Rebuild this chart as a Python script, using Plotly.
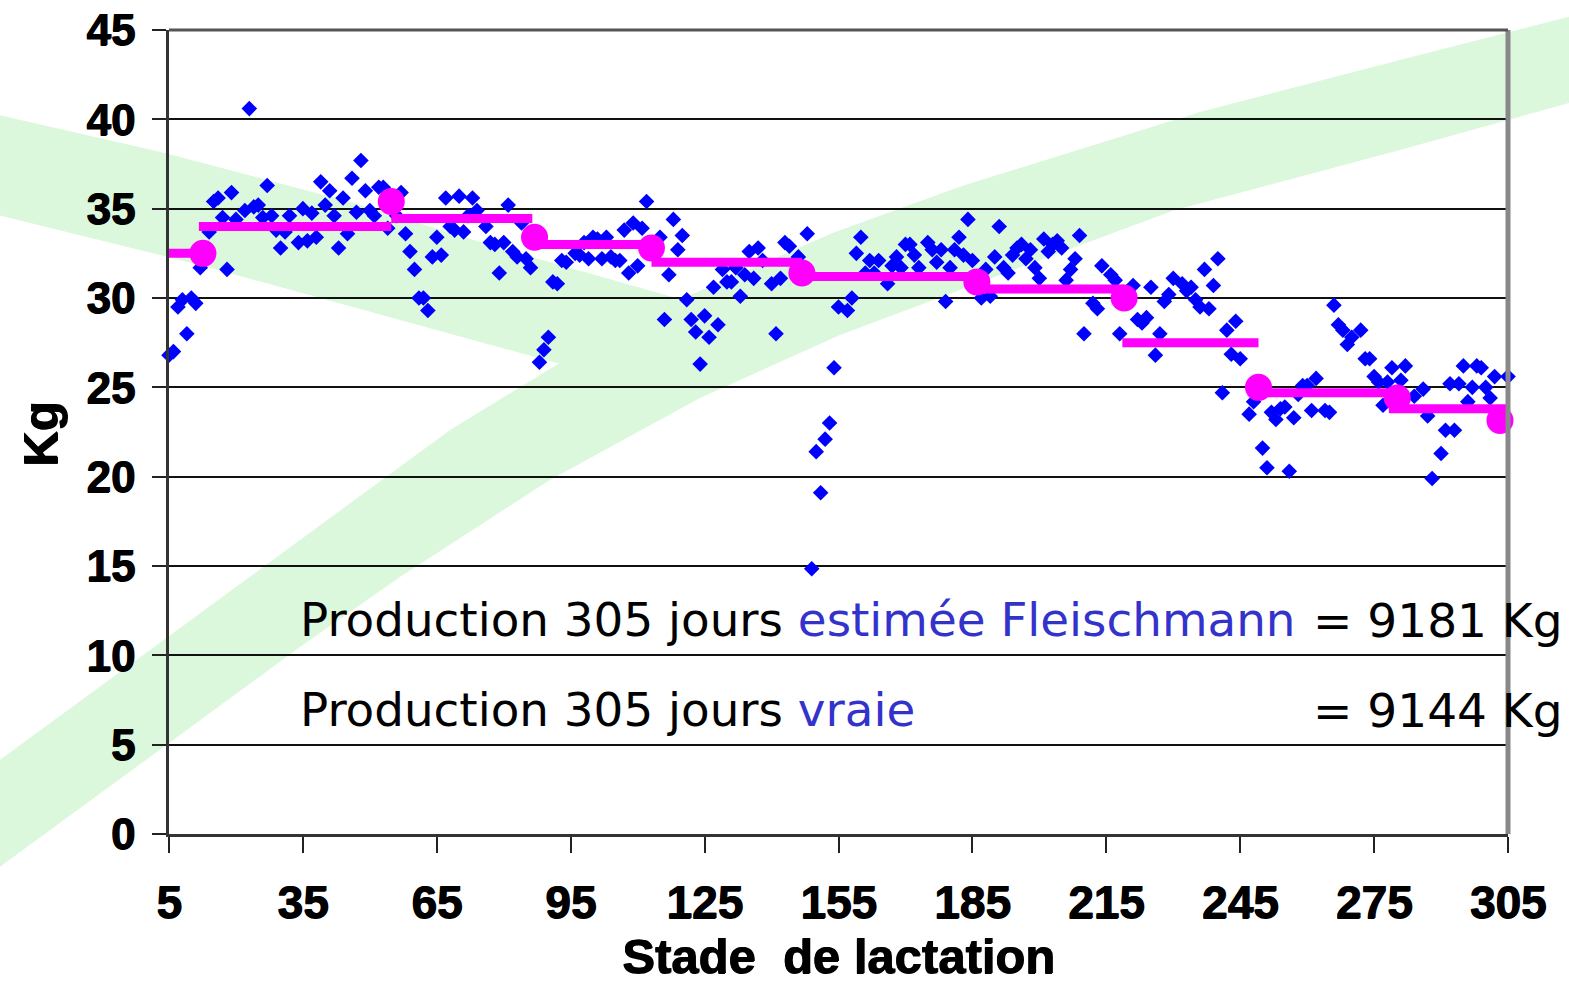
import plotly.graph_objects as go

# Daily milk yield (day in milk, kg)
days = [5, 6, 7, 8, 9, 10, 11, 12, 14, 15, 16, 17, 18, 19, 20, 22, 23, 24, 25, 26,
        27, 28, 29, 30, 31, 32, 34, 35, 36, 37, 38, 39, 40, 41, 42, 43, 44, 45, 46, 47,
        48, 49, 50, 51, 52, 53, 54, 56, 57, 58, 59, 60, 61, 62, 63, 64, 65, 66, 67, 68,
        69, 70, 71, 72, 73, 74, 76, 77, 78, 79, 80, 81,
        82, 83, 84, 85, 86, 88, 89, 90, 91, 92, 93, 94, 96, 97, 98, 99, 100, 101, 102,
        103, 104, 105, 106, 107, 108, 109, 110, 111, 112, 115, 116, 117, 118, 119, 120,
        121, 122, 123, 124, 125, 126, 127, 128, 129, 130, 131, 132, 133, 134, 135, 136,
        137, 138, 140, 141, 142, 143, 144, 146, 148, 149, 150, 151, 152, 153, 154,
        155, 157, 158, 159, 160, 161, 162, 163, 164, 166, 167, 168, 169, 170, 171, 172,
        173, 175, 176, 177, 178, 179, 180, 181, 182, 183, 184, 185, 187, 188, 189, 190,
        191, 192, 193, 194, 195, 196, 197, 198, 199, 200, 201, 202, 203, 204, 205, 206,
        207, 208, 209, 210, 212, 213, 214, 216, 217, 218, 221, 222, 223, 224, 225, 226,
        227, 228, 229, 230, 232, 233, 234, 235, 236, 237, 238, 239, 240, 241, 242, 243,
        244, 245, 247, 248, 250, 251, 252, 253, 254, 255, 256, 257, 258, 259, 260, 261,
        262, 264, 265, 266, 267, 268, 269, 270, 272, 273, 274, 275, 276, 277, 278, 279,
        281, 282, 284, 286, 287, 288, 290, 291, 292, 293, 294, 295, 296, 297, 298, 299,
        300, 301, 302, 305]
kg = [26.8, 27.0, 29.5, 29.9, 28.0, 30.0, 29.7, 31.7, 33.7, 35.4, 35.6, 34.5, 31.6, 35.9, 34.4, 34.9, 40.6, 35.1, 35.2, 34.5,
      36.3, 34.6, 33.8, 32.8, 33.7, 34.6, 33.1, 35.0, 33.2, 34.75, 33.4, 36.5, 35.2, 36.0, 34.6, 32.8, 35.6, 33.6, 36.7, 34.8,
      37.7, 36.0, 34.9, 34.6, 36.2, 36.2, 33.9, 34.6, 35.9, 33.6, 32.6, 31.6, 30.0, 30.0, 29.3, 32.3, 33.4, 32.4, 35.6, 34.0,
      33.8, 35.7, 33.7, 34.6, 35.6, 34.9, 34.0, 33.1, 33.0, 31.4, 33.1, 35.2,
      32.6, 32.3, 34.2, 32.2, 31.7, 26.4, 27.1, 27.8, 30.9, 30.8, 32.1, 32.0, 32.5, 32.4, 33.1, 32.2, 33.4, 33.3, 32.2,
      33.4, 32.3, 32.1, 32.1, 33.8, 31.4, 34.2, 31.8, 33.9, 35.4, 33.4, 28.8, 31.3, 34.4, 32.7, 33.5,
      29.9, 28.8, 28.1, 26.3, 29.0, 27.8, 30.6, 28.5, 31.6, 30.9, 30.9, 31.7, 30.1, 31.3, 32.6, 31.1,
      32.8, 32.1, 30.8, 28.0, 31.1, 33.1, 32.9, 32.3, 33.6, 14.85, 21.4, 19.1, 22.1, 23.0, 26.1,
      29.5, 29.3, 30.0, 32.5, 33.4, 31.4, 32.1, 31.4, 32.1, 30.8, 31.8, 32.3, 31.7, 33.0, 33.0, 32.4,
      31.7, 33.1, 32.7, 32.0, 32.7, 29.8, 31.7, 32.7, 33.4, 32.4, 34.4, 32.1, 30.0, 31.6, 30.1, 32.3,
      34.0, 31.7, 31.4, 32.4, 32.8, 33.0, 32.2, 32.7, 31.7, 31.1, 33.3, 32.6, 33.0, 33.2, 32.8, 31.0,
      31.6, 32.2, 33.5, 28.0, 29.7, 29.4, 31.8, 31.3, 31.0, 28.0, 30.7, 28.8, 28.6, 28.9, 30.6, 26.8,
      28.0, 29.8, 30.2, 31.1, 30.8, 30.4, 30.6, 29.9, 29.5, 31.6, 29.4, 30.7, 32.2, 24.7, 28.2, 26.85,
      28.7, 26.6, 23.5, 24.2, 21.6, 20.5, 23.6, 23.2, 23.8, 23.9, 20.3, 23.3, 24.6, 25.1, 25.1, 23.7,
      25.5, 23.7, 23.6, 29.6, 28.5, 28.2, 27.4, 27.8, 28.2, 26.6, 26.6, 25.6, 25.3, 24.0, 25.3, 26.1,
      25.4, 26.2, 24.5, 24.9, 23.4, 19.9, 21.3, 22.6, 25.2, 22.6, 25.2, 26.2, 24.2, 25.0, 26.2, 26.1,
      25.0, 24.4, 25.6, 25.6]

# Fleischmann estimate: test-day records and the level held between them
test_days = [12.6, 54.8, 86.9, 113.1, 146.8, 186, 219, 249.1, 280.2, 303.2]
test_kg = [32.5, 35.4, 33.4, 32.8, 31.4, 30.9, 30.0, 25.0, 24.4, 23.15]
seg_start = [5, 11.7, 54.8, 86.9, 113.1, 146.8, 186, 218.6, 249.1, 278.3]
seg_end = [12.6, 54.8, 86.4, 113.1, 146.8, 186, 219, 249.1, 280.2, 306]
seg_level = [32.5, 34.0, 34.45, 33.0, 32.0, 31.2, 30.5, 27.5, 24.7, 23.8]

y_ticks = list(range(0, 50, 5))
x_ticks = list(range(5, 306, 30))

W, H = 1569, 988
ML, MR, MT, MB = 169, 61, 30, 154
PW, PH = W - ML - MR, H - MT - MB


def to_paper(px, py):
    return (px - ML) / PW, (H - MB - py) / PH


def band_path(points):
    pts = [to_paper(x, y) for x, y in points]
    return "M " + " L ".join(f"{x:.4f},{y:.4f}" for x, y in pts) + " Z"


band_fill = "#DCF8DC"
# decorative light-green ribbons behind the plot
falling_band = [(-10, 113), (165, 153), (350, 202), (500, 248), (690, 302),
                (690, 394), (553, 362), (400, 320), (200, 265), (-10, 213)]
rising_band = [(-10, 767), (150, 650), (300, 540), (450, 430), (553, 367), (663, 307),
               (835, 232), (962, 186), (1200, 112), (1400, 60), (1580, 14),
               (1580, 100), (1400, 150), (1175, 210), (1000, 275), (840, 335),
               (700, 398), (550, 480), (400, 577), (300, 647), (150, 757), (-10, 874)]

shapes = [
    dict(type="path", path=band_path(falling_band), xref="paper", yref="paper",
         fillcolor=band_fill, line=dict(width=0), layer="below"),
    dict(type="path", path=band_path(rising_band), xref="paper", yref="paper",
         fillcolor=band_fill, line=dict(width=0), layer="below"),
    # border of the plotting area (top and right)
    dict(type="line", xref="paper", yref="paper", x0=1, x1=1, y0=0, y1=1,
         line=dict(color="#888888", width=5), layer="above"),
    dict(type="line", xref="paper", yref="paper", x0=0, x1=1, y0=1, y1=1,
         line=dict(color="#555555", width=3), layer="above"),
]

fig = go.Figure()

fig.add_trace(go.Scatter(
    x=days, y=kg, mode="markers",
    marker=dict(symbol="diamond", size=12, color="#0000FF", line=dict(width=0)),
    showlegend=False, cliponaxis=False,
))

seg_x, seg_y = [], []
for a, b, v in zip(seg_start, seg_end, seg_level):
    seg_x += [a, b, None]
    seg_y += [v, v, None]
fig.add_trace(go.Scatter(
    x=seg_x, y=seg_y, mode="lines",
    line=dict(color="#FF00FF", width=9),
    showlegend=False, cliponaxis=False,
))
fig.add_trace(go.Scatter(
    x=test_days, y=test_kg, mode="markers",
    marker=dict(symbol="circle", size=27, color="#FF00FF"),
    showlegend=False, cliponaxis=False,
))

left_font = dict(family="DejaVu Sans", size=46.8, color="#000000")
right_font = dict(family="DejaVu Sans", size=47, color="#000000")
blue = "#3333CC"
ann = []
for py, left, right in [
    (620, f"Production 305 jours <span style='color:{blue}'>estimée Fleischmann</span>", "= 9181 Kg"),
    (710, f"Production 305 jours <span style='color:{blue}'>vraie</span>", "= 9144 Kg"),
]:
    x0, y0 = to_paper(298, py)
    x1, _ = to_paper(1311, py)
    ann.append(dict(text=left, x=x0, y=y0, xref="paper", yref="paper",
                    xanchor="left", yanchor="middle", showarrow=False, font=left_font))
    ann.append(dict(text=right, x=x1, y=y0, xref="paper", yref="paper",
                    xanchor="left", yanchor="middle", showarrow=False, font=right_font))

heavy = "1px 0px 0px #000, 0px 1px 0px #000"
title_font = dict(family="Liberation Sans", size=49, color="#000000", weight="bold",
                  shadow=heavy)

# axis titles
tx, ty = to_paper(838, 956)
ann.append(dict(text="Stade\u00a0 de lactation", x=tx, y=ty, xref="paper", yref="paper",
                xanchor="center", yanchor="middle", showarrow=False, font=title_font))
kx, ky = to_paper(40, 435)
ann.append(dict(text="Kg", x=kx, y=ky, xref="paper", yref="paper", textangle=-90,
                xanchor="center", yanchor="middle", showarrow=False, font=title_font))

tick_font = dict(family="Liberation Sans", size=44, color="#000000", weight="bold",
                 shadow=heavy)

fig.update_layout(
    width=W, height=H,
    margin=dict(l=ML, r=MR, t=MT, b=MB, pad=0, autoexpand=False),
    paper_bgcolor="#FFFFFF",
    plot_bgcolor="rgba(0,0,0,0)",
    shapes=shapes,
    annotations=ann,
    xaxis=dict(
        range=[5, 305], tickvals=x_ticks, ticktext=[str(v) for v in x_ticks],
        showgrid=False, zeroline=False, automargin=False,
        showline=True, linecolor="#333333", linewidth=3,
        ticks="outside", ticklen=16, tickwidth=2, tickcolor="#222222",
        tickfont=dict(family="Liberation Sans", size=46, color="#000000",
                      weight="bold", shadow=heavy),
        ticklabelstandoff=10,
    ),
    yaxis=dict(
        range=[0, 45], tickvals=y_ticks,
        showgrid=True, gridcolor="#111111", gridwidth=2,
        zeroline=False, automargin=False,
        showline=True, linecolor="#333333", linewidth=3,
        ticks="outside", ticklen=14, tickwidth=2, tickcolor="#222222",
        tickfont=tick_font, ticklabelstandoff=8,
    ),
)

fig.write_html("out.html")
